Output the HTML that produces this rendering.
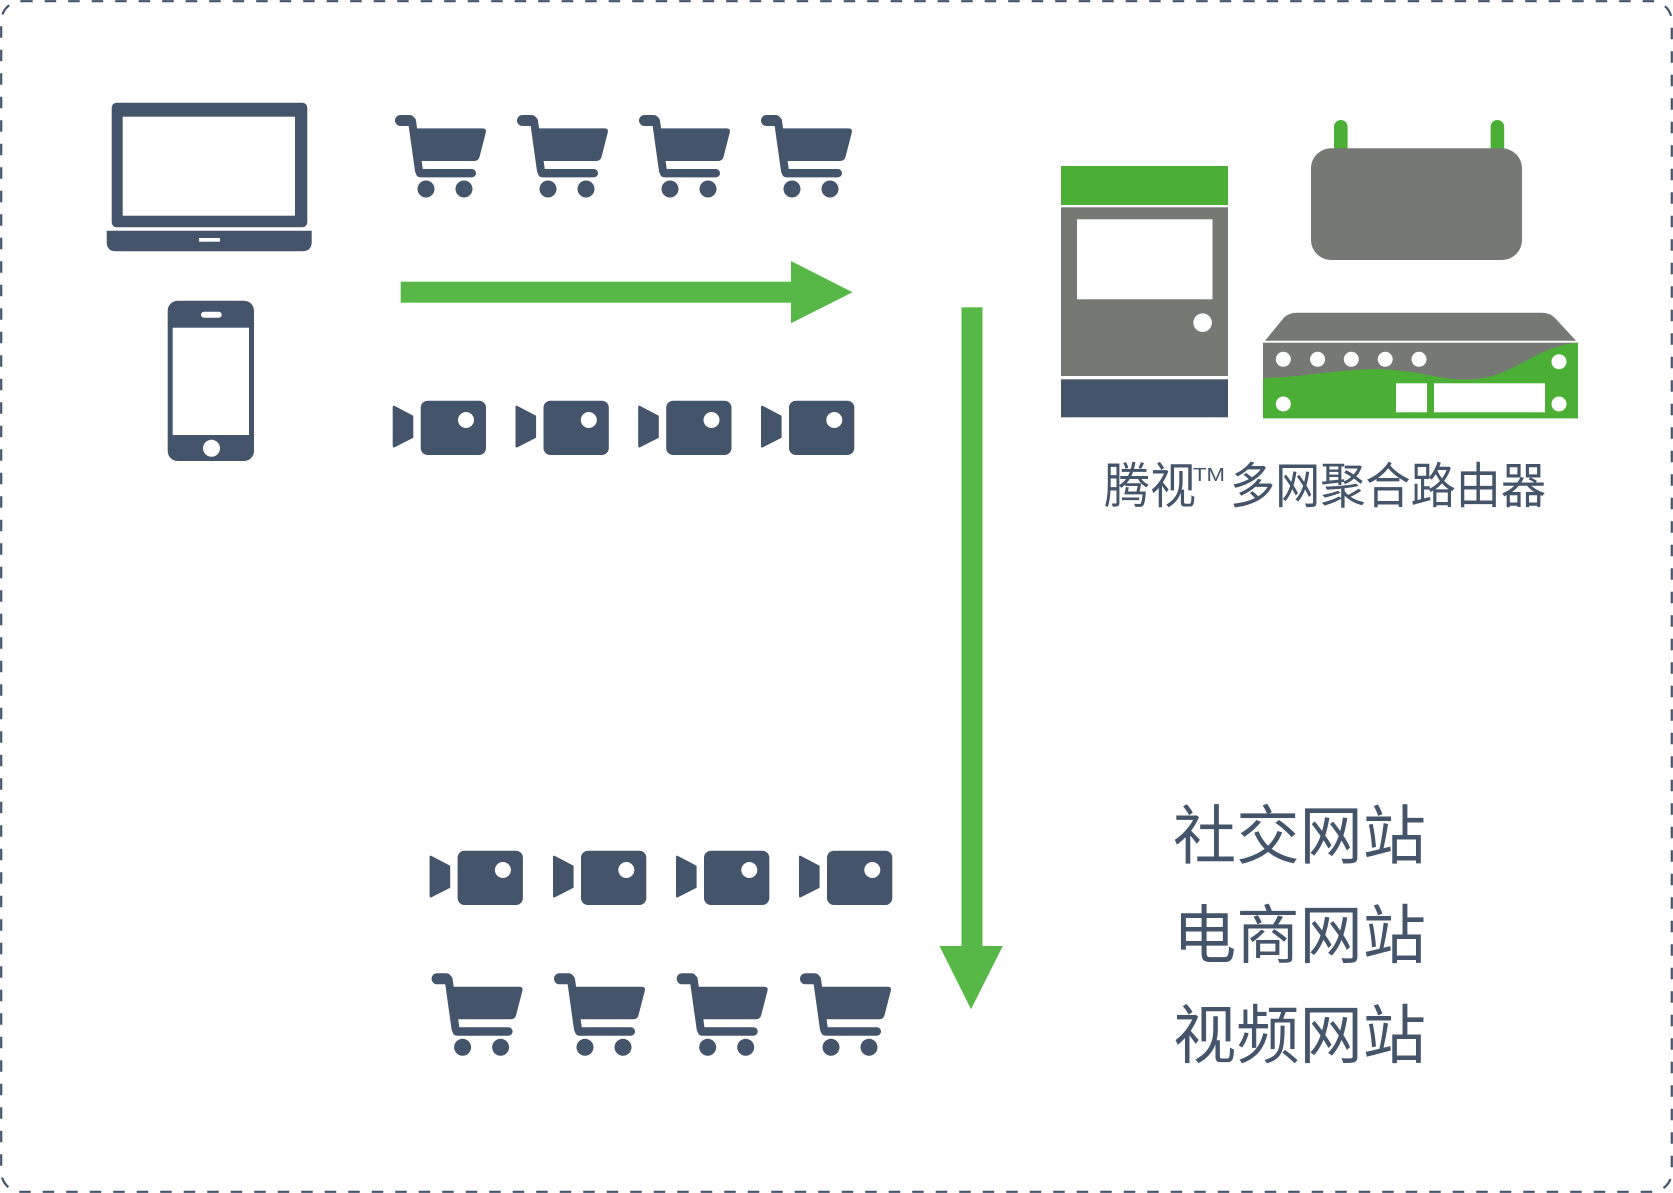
<!DOCTYPE html>
<html>
<head>
<meta charset="utf-8">
<style>
html,body{margin:0;padding:0;background:#fff;}
svg{display:block;}
</style>
</head>
<body>
<svg width="1673" height="1193" viewBox="0 0 1673 1193" xmlns="http://www.w3.org/2000/svg">
<defs>
  <g id="cart">
    <rect x="0" y="0" width="20" height="11" rx="5.5" fill="#44546a"/>
    <line x1="17" y1="6" x2="24" y2="56" stroke="#44546a" stroke-width="8" stroke-linecap="round"/>
    <path d="M19.5,13.4 L87.5,13.4 Q91.8,13.4 90.8,17.5 L84.5,42 Q83.3,46 79,46 L24,46 Z" fill="#44546a"/>
    <rect x="21" y="54" width="60" height="8.4" rx="4.2" fill="#44546a"/>
    <circle cx="31" cy="74" r="8.5" fill="#44546a"/>
    <circle cx="69" cy="74" r="8.5" fill="#44546a"/>
  </g>
  <g id="cam">
    <path d="M1.5,5 L20.6,15 L20.6,37 L1.5,46.8 Q0,47 0,45 L0,6.5 Q0,4.5 1.5,5 Z" fill="#44546a"/>
    <rect x="28" y="0" width="65.3" height="54.3" rx="7" fill="#44546a"/>
    <circle cx="73.3" cy="19.3" r="8" fill="#fff"/>
  </g>
</defs>

<!-- dashed border -->
<rect x="1.2" y="1.2" width="1670.6" height="1190.6" rx="20" ry="20" fill="none" stroke="#44546a" stroke-width="2.2" stroke-dasharray="11.5 12"/>

<!-- laptop -->
<rect x="111.7" y="102.7" width="195.6" height="124.6" rx="5" fill="#44546a"/>
<rect x="122.7" y="116.7" width="172.3" height="99" fill="#fff"/>
<path d="M106.7,230.7 H311.7 V242 Q311.7,251.3 302,251.3 H116 Q106.7,251.3 106.7,242 Z" fill="#44546a"/>
<rect x="199" y="238" width="21" height="3.7" fill="#fff"/>

<!-- phone -->
<rect x="167.7" y="300.7" width="86.3" height="160.3" rx="10" fill="#44546a"/>
<rect x="172.7" y="327.7" width="76.3" height="107.3" fill="#fff"/>
<rect x="201" y="311.7" width="20.7" height="6" rx="3" fill="#fff"/>
<circle cx="211.5" cy="448.3" r="8.5" fill="#fff"/>

<!-- top carts -->
<use href="#cart" x="395" y="115"/>
<use href="#cart" x="517" y="115"/>
<use href="#cart" x="639" y="115"/>
<use href="#cart" x="761" y="115"/>

<!-- horizontal arrow -->
<rect x="400.7" y="281.7" width="391" height="21" fill="#57b848"/>
<polygon points="791,261 852.5,292.3 791,323.3" fill="#57b848"/>

<!-- top cameras -->
<use href="#cam" x="392.7" y="400.7"/>
<use href="#cam" x="515.5" y="400.7"/>
<use href="#cam" x="638.2" y="400.7"/>
<use href="#cam" x="761" y="400.7"/>

<!-- vertical arrow -->
<rect x="961.5" y="307.3" width="21" height="639.5" fill="#57b848"/>
<polygon points="939.5,946 1002.8,946 971,1009.3" fill="#57b848"/>

<!-- bottom cameras -->
<use href="#cam" x="429.6" y="850.7"/>
<use href="#cam" x="553" y="850.7"/>
<use href="#cam" x="676" y="850.7"/>
<use href="#cam" x="799" y="850.7"/>

<!-- bottom carts -->
<use href="#cart" x="431.6" y="973.3"/>
<use href="#cart" x="554" y="973.3"/>
<use href="#cart" x="676.7" y="973.3"/>
<use href="#cart" x="800" y="973.3"/>

<!-- server box -->
<rect x="1061" y="166" width="167" height="39" fill="#4caf35"/>
<rect x="1061" y="207.3" width="167" height="168.7" fill="#767874"/>
<rect x="1061" y="379.3" width="167" height="38" fill="#44546a"/>
<rect x="1077" y="219.3" width="135.5" height="80" fill="#fff"/>
<circle cx="1202.6" cy="322.7" r="9.3" fill="#fff"/>

<!-- router top -->
<rect x="1334" y="120" width="13.6" height="34" rx="6.8" fill="#4caf35"/>
<rect x="1490.6" y="120" width="13.6" height="34" rx="6.8" fill="#4caf35"/>
<rect x="1311" y="148.3" width="211" height="111.7" rx="20" fill="#767874"/>

<!-- bottom device -->
<path d="M1265,340.7 L1284,317.5 Q1289,312.7 1297,312.7 L1542,312.7 Q1550,312.7 1555,318 L1576,340.7 Z" fill="#767874"/>
<rect x="1263" y="342.7" width="315" height="75.6" fill="#767874"/>
<path d="M1263,378.3 C1305,377 1340,369 1377.7,369.3 C1420,369.8 1440,381 1472,379.3 C1515,377 1535,346 1578,342.7 L1578,418.3 L1263,418.3 Z" fill="#4caf35"/>
<g fill="#fff">
  <circle cx="1283.3" cy="359.3" r="7.5"/>
  <circle cx="1317.6" cy="359.3" r="7.5"/>
  <circle cx="1351.3" cy="359.3" r="7.5"/>
  <circle cx="1385.2" cy="359.3" r="7.5"/>
  <circle cx="1419" cy="359.3" r="7.5"/>
  <circle cx="1559" cy="361.7" r="7.5"/>
  <circle cx="1559" cy="404" r="7.5"/>
  <circle cx="1283.3" cy="404" r="7.5"/>
  <rect x="1396" y="383.3" width="31" height="29"/>
  <rect x="1434" y="383.3" width="111" height="29"/>
</g>

<!-- label -->
<g fill="#44546a" font-family="'Liberation Sans','Noto Sans CJK SC',sans-serif">
  <text x="1104" y="503" font-size="49" textLength="92" lengthAdjust="spacingAndGlyphs">腾视</text>
  <text x="1193" y="481" font-size="18.5" textLength="32" lengthAdjust="spacingAndGlyphs">TM</text>
  <text x="1230" y="503" font-size="49" textLength="316" lengthAdjust="spacingAndGlyphs">多网聚合路由器</text>
</g>

<!-- right text -->
<g fill="#44546a" font-family="'Liberation Sans','Noto Sans CJK SC',sans-serif" font-size="64">
  <text x="1173" y="858.5" textLength="253" lengthAdjust="spacingAndGlyphs">社交网站</text>
  <text x="1173" y="958" textLength="253" lengthAdjust="spacingAndGlyphs">电商网站</text>
  <text x="1173" y="1058" textLength="253" lengthAdjust="spacingAndGlyphs">视频网站</text>
</g>
</svg>
</body>
</html>
